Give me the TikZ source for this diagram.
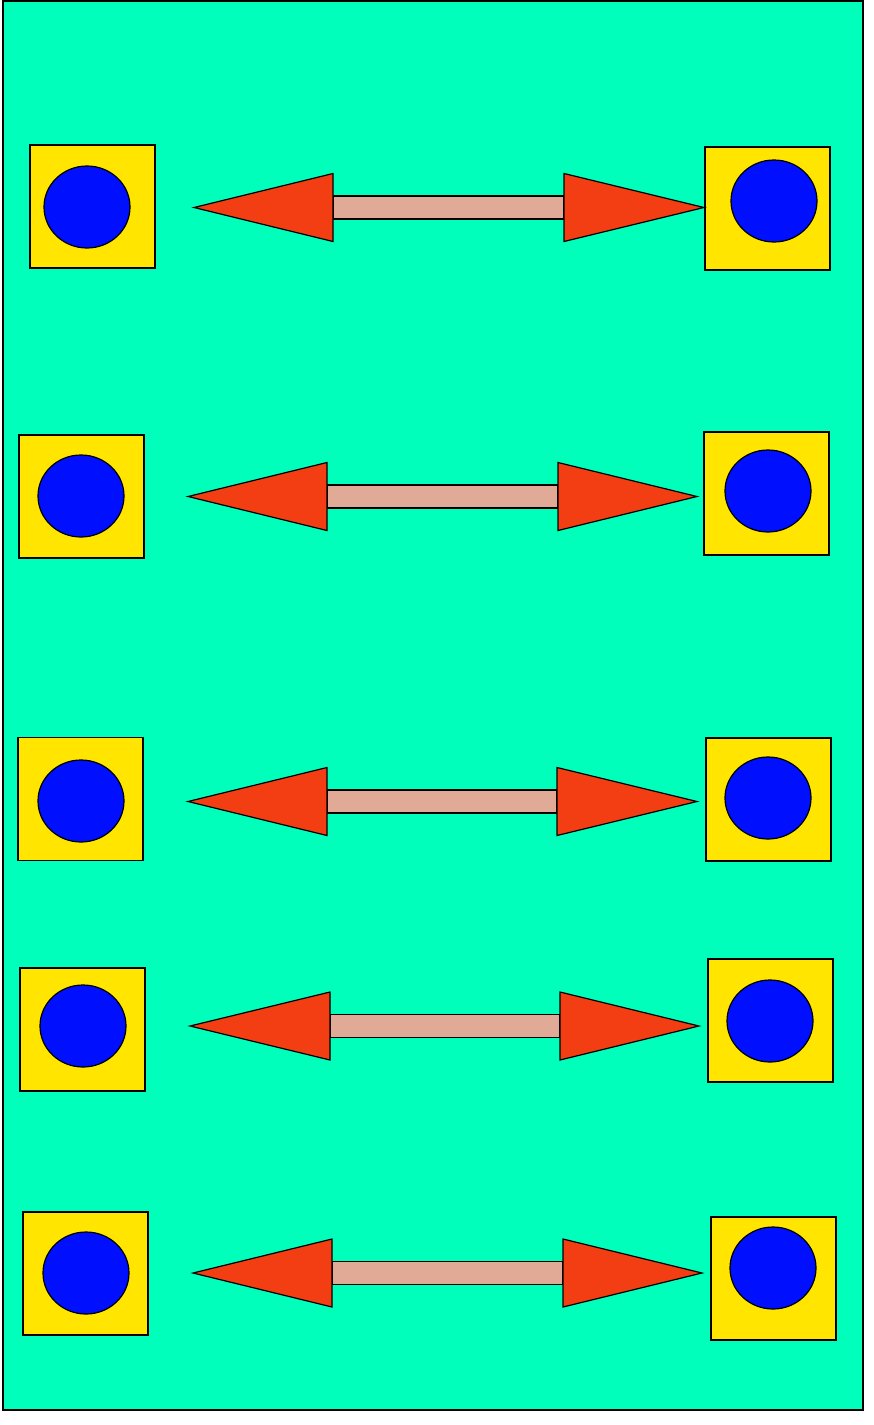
\documentclass[tikz,border=0pt]{standalone}
\usetikzlibrary{shapes.geometric}
\definecolor{bgc}{RGB}{0,255,187}
\definecolor{sqc}{RGB}{255,229,0}
\definecolor{dotc}{RGB}{0,16,255}
\definecolor{headc}{RGB}{242,62,18}
\definecolor{shaftc}{RGB}{224,170,150}
\tikzset{
  sq/.style={draw=black,fill=sqc,line width=1.2pt,minimum width=125pt,minimum height=123pt,inner sep=0pt,outer sep=0pt},
  dot/.style={draw=black,fill=dotc,line width=1.2pt,ellipse,minimum width=86pt,minimum height=82pt,inner sep=0pt,outer sep=0pt},
  headst/.style={draw=black,fill=headc,line width=1.2pt,line join=miter},
  shaftst/.style={draw=black,fill=shaftc,line width=1.2pt},
}
\newcommand{\rowarrow}[5]{%
  \draw[shaftst] ({#2},{#5-11.5}) rectangle ({#3},{#5+11.5});
  \draw[headst] ({#1},{#5}) -- ({#2},{#5-34}) -- ({#2},{#5+34}) -- cycle;
  \draw[headst] ({#4},{#5}) -- ({#3},{#5-34}) -- ({#3},{#5+34}) -- cycle;
}
\begin{document}
\begin{tikzpicture}[x=1pt,y=-1pt]
\useasboundingbox (0,0) rectangle (874,1425);
\draw[fill=bgc,line width=1.5pt] (3,1) rectangle (863,1410);
% row 1
\node[sq] (L1) at (92.5,206.5) {};
\node[dot] (LD1) at (87,207) {};
\node[sq] (R1) at (767.5,208.5) {};
\node[dot] (RD1) at (774,201) {};
\rowarrow{194}{333}{564}{704}{207.5}
% row 2
\node[sq] (L2) at (81.5,496.5) {};
\node[dot] (LD2) at (81,496) {};
\node[sq] (R2) at (766.5,493.5) {};
\node[dot] (RD2) at (768,491) {};
\rowarrow{188}{327}{558}{697}{496.5}
% row 3
\node[sq] (L3) at (80.5,799) {};
\node[dot] (LD3) at (81,801) {};
\node[sq] (R3) at (768.5,799.5) {};
\node[dot] (RD3) at (768,798) {};
\rowarrow{188}{327}{557}{697}{801.5}
% row 4
\node[sq] (L4) at (82.5,1029.5) {};
\node[dot] (LD4) at (83,1026) {};
\node[sq] (R4) at (770.5,1020.5) {};
\node[dot] (RD4) at (770,1021) {};
\rowarrow{190}{330}{560}{699}{1026}
% row 5
\node[sq] (L5) at (85.5,1273.5) {};
\node[dot] (LD5) at (86,1273) {};
\node[sq] (R5) at (773.5,1278.5) {};
\node[dot] (RD5) at (773,1268) {};
\rowarrow{193}{332}{563}{702}{1273}
\end{tikzpicture}
\end{document}
